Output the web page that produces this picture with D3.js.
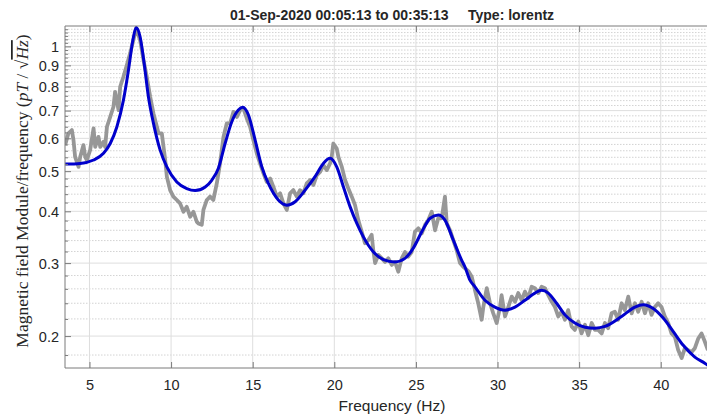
<!DOCTYPE html>
<html>
<head>
<meta charset="utf-8">
<script src="https://cdn.jsdelivr.net/npm/d3@7"></script>
<style>
  body { margin: 0; background: #fff; }
  text { font-family: "Liberation Sans", Arial, sans-serif; fill: #262626; }
</style>
</head>
<body>
<svg id="chart" width="707" height="420"></svg>
<script>
// measured spectrum (grey)
var freqRaw = [3.51,3.71,3.92,4.02,4.12,4.33,4.43,4.63,4.74,4.84,5.04,5.25,5.35,5.55,5.66,5.86,5.96,6.07,6.27,6.47,
  6.57,6.78,6.88,7.08,7.29,7.49,7.69,7.86,8.10,8.31,8.51,8.72,8.92,9.13,9.23,9.43,9.64,9.74,9.94,10.14,
  10.35,10.55,10.76,10.96,11.17,11.37,11.58,
  11.67,11.88,11.98,12.19,12.39,12.59,12.80,13.00,13.21,13.41,13.62,13.82,14.03,14.23,14.43,14.64,14.84,15.04,15.25,15.45,
  15.66,15.86,16.07,16.27,16.48,16.68,16.88,17.09,17.29,17.49,17.70,17.90,18.10,18.31,18.52,18.72,18.93,19.13,19.33,19.54,19.74,
  19.84,19.94,20.15,20.25,20.46,20.66,20.86,21.07,21.27,21.47,21.68,21.88,22.09,22.29,22.39,22.50,22.70,22.91,23.11,23.31,
  23.52,23.72,23.92,24.13,24.33,24.53,24.74,24.94,25.15,25.36,25.56,25.76,25.97,26.17,26.37,26.58,26.78,26.89,27.09,27.29,
  27.50,27.70,27.90,28.21,
  28.42,28.62,28.82,29.03,29.13,29.34,29.54,29.74,29.95,30.15,30.25,30.46,30.66,30.87,31.07,31.27,31.48,31.68,31.88,32.09,
  32.29,32.50,32.70,32.91,33.11,33.32,33.52,33.72,33.93,34.13,34.33,34.54,34.74,34.95,35.15,35.36,35.56,35.77,35.97,36.17,36.38,
  36.58,36.78,36.99,37.19,37.39,37.60,37.80,38.01,38.22,38.42,38.62,38.83,39.03,39.23,39.44,39.64,39.84,40.05,40.25,40.46,
  40.66,40.87,41.07,41.28,41.48,41.68,41.89,42.09,42.29,42.50,42.70,42.89];
var valRaw = [0.578,0.617,0.628,0.594,0.541,0.512,0.541,0.578,0.541,0.532,0.562,0.634,0.572,0.605,0.572,0.589,0.572,0.640,0.676,0.715,
  0.777,0.702,0.799,0.845,0.901,0.962,1.036,1.105,1.036,0.927,0.845,0.756,0.689,0.640,0.617,0.617,0.532,0.485,0.450,0.434,
  0.426,0.418,0.399,0.410,0.388,0.399,0.377,
  0.374,0.371,0.403,0.426,0.434,0.426,0.467,0.522,0.605,0.652,0.652,0.695,0.676,0.702,0.709,0.670,0.640,0.594,0.552,0.522,
  0.494,0.471,0.480,0.458,0.434,0.442,0.418,0.403,0.442,0.450,0.434,0.450,0.442,0.467,0.476,0.463,0.489,0.498,0.517,0.503,0.522,
  0.541,0.583,0.567,0.541,0.512,0.476,0.454,0.434,0.414,0.381,0.357,0.335,0.341,0.351,0.322,0.300,0.314,0.308,0.302,0.308,
  0.297,0.302,0.286,0.308,0.319,0.311,0.319,0.357,0.364,0.354,0.371,0.381,0.399,0.360,0.385,0.385,0.434,0.374,0.360,0.341,
  0.322,0.300,0.294,0.287,
  0.278,0.258,0.240,0.219,0.235,0.261,0.240,0.227,0.215,0.235,0.251,0.223,0.235,0.249,0.242,0.254,0.244,0.256,0.247,0.263,
  0.261,0.254,0.263,0.261,0.251,0.242,0.235,0.223,0.229,0.219,0.231,0.211,0.207,0.217,0.203,0.213,0.201,0.215,0.207,0.207,0.203,
  0.215,0.209,0.227,0.229,0.219,0.240,0.231,0.249,0.227,0.240,0.229,0.242,0.227,0.240,0.225,0.235,0.240,0.235,0.223,0.215,
  0.203,0.199,0.185,0.177,0.187,0.185,0.183,0.187,0.197,0.203,0.194,0.185];

// lorentz fit (blue)
var freqFit = [3.51,4.43,5.25,5.86,6.27,6.68,7.08,7.39,7.66,7.86,8.10,8.35,8.61,8.92,9.33,9.74,10.35,10.96,11.47,12.09,
  12.50,12.90,13.31,13.72,14.12,14.39,14.74,15.15,15.56,15.96,16.57,17.09,17.60,18.21,18.82,19.33,19.74,20.15,20.56,20.97,
  21.38,21.78,22.40,23.01,23.72,24.33,24.84,25.36,25.87,26.37,26.78,27.29,27.80,28.00,28.31,28.62,29.23,29.84,30.46,31.07,
  31.68,32.29,32.70,33.11,33.62,34.13,34.74,35.36,35.97,36.58,37.60,38.42,38.93,39.54,40.15,40.77,41.38,42.09,42.70,42.89];
var valFit = [0.520,0.522,0.532,0.552,0.583,0.640,0.742,0.877,1.036,1.111,1.055,0.910,0.756,0.652,0.562,0.512,0.471,0.454,0.449,0.458,
  0.476,0.508,0.583,0.658,0.702,0.713,0.683,0.594,0.512,0.467,0.426,0.414,0.422,0.450,0.485,0.522,0.537,0.512,0.458,0.410,
  0.374,0.347,0.319,0.306,0.302,0.308,0.326,0.357,0.385,0.392,0.381,0.341,0.305,0.294,0.273,0.263,0.244,0.235,0.231,0.235,
  0.244,0.254,0.258,0.254,0.240,0.225,0.215,0.210,0.209,0.211,0.223,0.235,0.238,0.233,0.221,0.205,0.190,0.178,0.172,0.170];

var xTicks = [5,10,15,20,25,30,35,40];
var yTicks = [0.2,0.3,0.4,0.5,0.6,0.7,0.8,0.9,1];
var yTickLabels = ["0.2","0.3","0.4","0.5","0.6","0.7","0.8","0.9","1"];
var yMinor = [0.18,0.22,0.24,0.26,0.28,0.32,0.34,0.36,0.38,0.42,0.44,0.46,0.48,0.52,0.54,0.56,0.58,
  0.62,0.64,0.66,0.68,0.72,0.74,0.76,0.78,0.82,0.84,0.86,0.88,0.92,0.94,0.96,0.98,1.02,1.04,1.06,1.08,1.10];

var titleText = "01-Sep-2020 00:05:13 to 00:35:13     Type: lorentz";

var pLeft = 65, pRight = 709.7, pTop = 26, pBottom = 368;

var svg = d3.select("#chart");

var x = d3.scaleLinear().domain([3.5, 43]).range([pLeft, pRight]);
var y = d3.scaleLog().domain([0.1675, 1.12]).range([pBottom, pTop]);

svg.append("defs").append("clipPath").attr("id", "plot-clip")
  .append("rect").attr("x", pLeft).attr("y", pTop).attr("width", pRight - pLeft).attr("height", pBottom - pTop);

// grid
var grid = svg.append("g").attr("class", "grid");
grid.selectAll(".ymin").data(yMinor).enter().append("line")
  .attr("x1", pLeft).attr("x2", pRight)
  .attr("y1", d => y(d)).attr("y2", d => y(d))
  .attr("stroke", "#c8c8c8").attr("stroke-width", 0.8).attr("stroke-dasharray", "1.5,1.5");
grid.selectAll(".ymaj").data(yTicks).enter().append("line")
  .attr("x1", pLeft).attr("x2", pRight)
  .attr("y1", d => y(d)).attr("y2", d => y(d))
  .attr("stroke", "#dedede").attr("stroke-width", 1);
grid.selectAll(".xmaj").data(xTicks).enter().append("line")
  .attr("y1", pTop).attr("y2", pBottom)
  .attr("x1", d => x(d)).attr("x2", d => x(d))
  .attr("stroke", "#dedede").attr("stroke-width", 1);

// lines
var plot = svg.append("g").attr("clip-path", "url(#plot-clip)");
var rawLine = d3.line().x(d => x(d[0])).y(d => y(d[1]));
plot.append("path")
  .datum(freqRaw.map((f, i) => [f, valRaw[i]]))
  .attr("d", rawLine)
  .attr("fill", "none").attr("stroke", "#979797").attr("stroke-width", 3.8)
  .attr("stroke-linejoin", "round");

var fitLine = d3.line().x(d => x(d[0])).y(d => y(d[1])).curve(d3.curveMonotoneX);
plot.append("path")
  .datum(freqFit.map((f, i) => [f, valFit[i]]))
  .attr("d", fitLine)
  .attr("fill", "none").attr("stroke", "#0000cc").attr("stroke-width", 3);

// axes box
var axisColor = "#7a7a7a";
var xAxis = svg.append("g").attr("transform", "translate(0," + pBottom + ")")
  .call(d3.axisBottom(x).tickValues(xTicks).tickSize(-6).tickPadding(12).tickFormat(d3.format("d")));
var xTop = svg.append("g").attr("transform", "translate(0," + pTop + ")")
  .call(d3.axisTop(x).tickValues(xTicks).tickSize(-6).tickFormat(""));
var yAxis = svg.append("g").attr("transform", "translate(" + pLeft + ",0)")
  .call(d3.axisLeft(y).tickValues(yTicks).tickSize(-6).tickPadding(12)
    .tickFormat((d, i) => yTickLabels[i]));
var yMinorAxis = svg.append("g").attr("transform", "translate(" + pLeft + ",0)")
  .call(d3.axisLeft(y).tickValues(yMinor).tickSize(-3).tickFormat(""));

[xAxis, xTop, yAxis, yMinorAxis].forEach(function(g){
  g.selectAll(".tick line").attr("stroke", axisColor);
  g.selectAll(".tick text").style("font-size", "14.5px").attr("fill", "#262626")
    .style("font-family", '"Liberation Sans", Arial, sans-serif');
});
svg.selectAll(".domain").remove();
svg.append("line").attr("x1", pLeft).attr("x2", pRight).attr("y1", pBottom).attr("y2", pBottom).attr("stroke", axisColor);
svg.append("line").attr("x1", pLeft).attr("x2", pRight).attr("y1", pTop).attr("y2", pTop).attr("stroke", axisColor);
svg.append("line").attr("x1", pLeft).attr("x2", pLeft).attr("y1", pTop).attr("y2", pBottom).attr("stroke", axisColor);

xAxis.selectAll(".tick text").attr("dy", null).attr("y", 22);
yAxis.selectAll(".tick text").attr("x", -6).attr("dy", "0.36em");

// titles
svg.append("text")
  .attr("x", 392).attr("y", 20)
  .attr("text-anchor", "middle")
  .style("font-size", "14px").style("font-weight", "bold")
  .style("white-space", "pre")
  .attr("fill", "#000")
  .text(titleText);

svg.append("text")
  .attr("x", 392).attr("y", 411)
  .attr("text-anchor", "middle")
  .style("font-size", "15.5px")
  .text("Frequency (Hz)");

var ylab = svg.append("text")
  .attr("transform", "translate(28,191) rotate(-90)")
  .attr("text-anchor", "middle")
  .style("font-family", '"Liberation Serif", "DejaVu Serif", serif')
  .style("font-size", "17.5px");
ylab.append("tspan").text("Magnetic field Module/frequency (");
ylab.append("tspan").style("font-style", "italic").text("pT");
ylab.append("tspan").text(" / √");
ylab.append("tspan").style("font-style", "italic").style("text-decoration", "overline").text("Hz");
ylab.append("tspan").text(")");
</script>
</body>
</html>
